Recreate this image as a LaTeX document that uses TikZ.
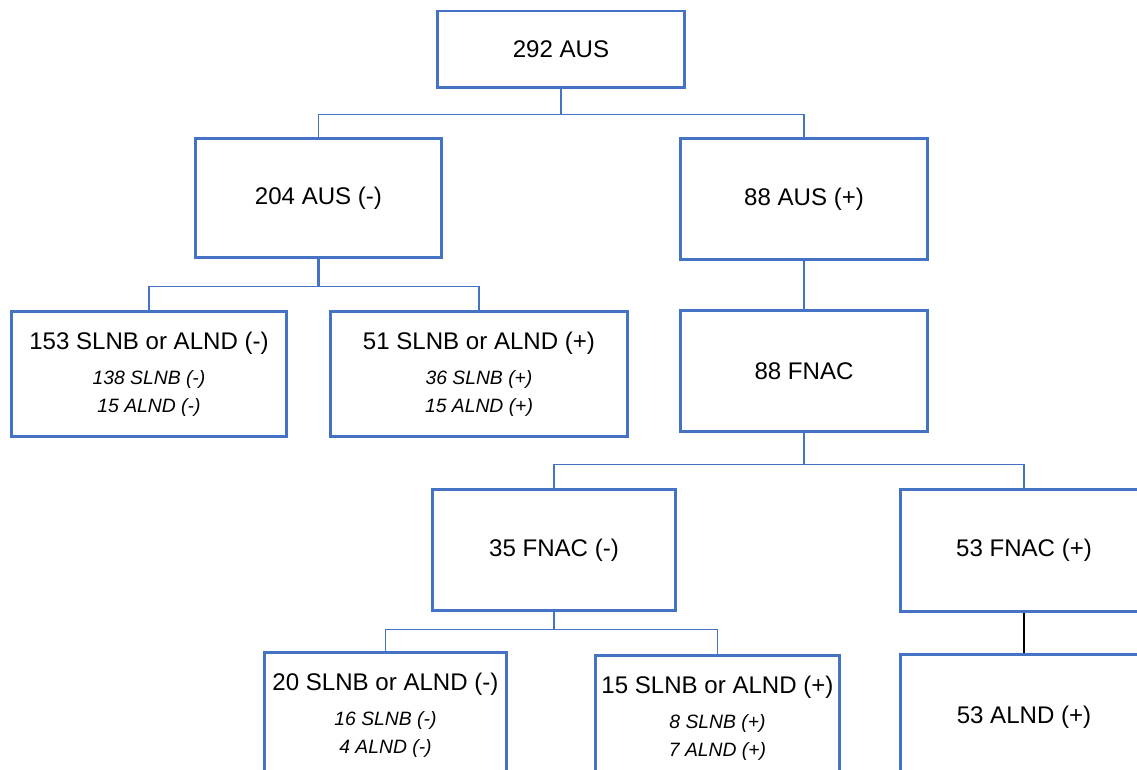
\documentclass[tikz,border=0pt]{standalone}
\usepackage{fontspec}
\setmainfont{Liberation Sans}
\usetikzlibrary{positioning}
\definecolor{azul}{HTML}{4472C4}
\newcommand{\subline}[1]{{\fontsize{11}{16}\selectfont\itshape #1}}

\begin{document}
\begin{tikzpicture}[x=0.02cm,y=-0.02cm,
    caja/.style={draw=azul,line width=1.7pt,align=center,inner sep=0pt,
        font=\fontsize{13.7}{16}\selectfont},
    linea/.style={draw=azul,line width=1.1pt}]
    % ---- Marco ----
    \clip (0,0) rectangle (1137,770);

    % ---- Cajas ----
    \node[caja,minimum width=4.96cm,minimum height=1.54cm] (aus) at (561,49.5) {292 AUS};
    \node[caja,minimum width=4.94cm,minimum height=2.4cm] (ausneg) at (318.5,198) {204 AUS (-)};
    \node[caja,minimum width=4.96cm,minimum height=2.44cm] (auspos) at (804,199) {88 AUS (+)};

    \node[caja,minimum width=5.52cm,minimum height=2.52cm] (slnbneg) at (149,374)
        {153 SLNB or ALND (-)\\[4pt]\subline{138 SLNB (-)}\\\subline{15 ALND (-)}};
    \node[caja,minimum width=5.96cm,minimum height=2.52cm] (slnbpos) at (479,374)
        {51 SLNB or ALND (+)\\[4pt]\subline{36 SLNB (+)}\\\subline{15 ALND (+)}};
    \node[caja,minimum width=4.96cm,minimum height=2.44cm] (fnac) at (804,371) {88 FNAC};

    \node[caja,minimum width=4.88cm,minimum height=2.44cm] (fnacneg) at (554,550) {35 FNAC (-)};
    \node[caja,minimum width=4.96cm,minimum height=2.46cm] (fnacpos) at (1024,550.5) {53 FNAC (+)};

    \node[caja,minimum width=4.86cm,minimum height=2.52cm] (slnbnegb) at (385.5,715)
        {20 SLNB or ALND (-)\\[4pt]\subline{16 SLNB (-)}\\\subline{4 ALND (-)}};
    \node[caja,minimum width=4.9cm,minimum height=2.52cm] (slnbposb) at (717.5,718)
        {15 SLNB or ALND (+)\\[4pt]\subline{8 SLNB (+)}\\\subline{7 ALND (+)}};
    \node[caja,minimum width=4.96cm,minimum height=2.52cm] (alndpos) at (1024,717) {53 ALND (+)};

    % ---- Conectores ----
    \draw[linea] (aus.south) -- ++(0,25) -| (ausneg.north);
    \draw[linea] (aus.south) -- ++(0,25) -| (auspos.north);

    \draw[linea,line width=1.7pt] (ausneg.south) -- ++(0,27);
    \draw[linea] (ausneg.south) -- ++(0,27) -| (slnbneg.north);
    \draw[linea] (ausneg.south) -- ++(0,27) -| (slnbpos.north);
    \draw[linea] (auspos.south) -- (fnac.north);

    \draw[linea] (fnac.south) -- ++(0,31) -| (fnacneg.north);
    \draw[linea] (fnac.south) -- ++(0,31) -| (fnacpos.north);

    \draw[linea,line width=1.7pt] (fnacneg.south) -- ++(0,17);
    \draw[linea] (fnacneg.south) -- ++(0,17) -| (slnbnegb.north);
    \draw[linea] (fnacneg.south) -- ++(0,17) -| (slnbposb.north);
    \draw[black,line width=1.1pt] (fnacpos.south) -- (alndpos.north);

\end{tikzpicture}
\end{document}
